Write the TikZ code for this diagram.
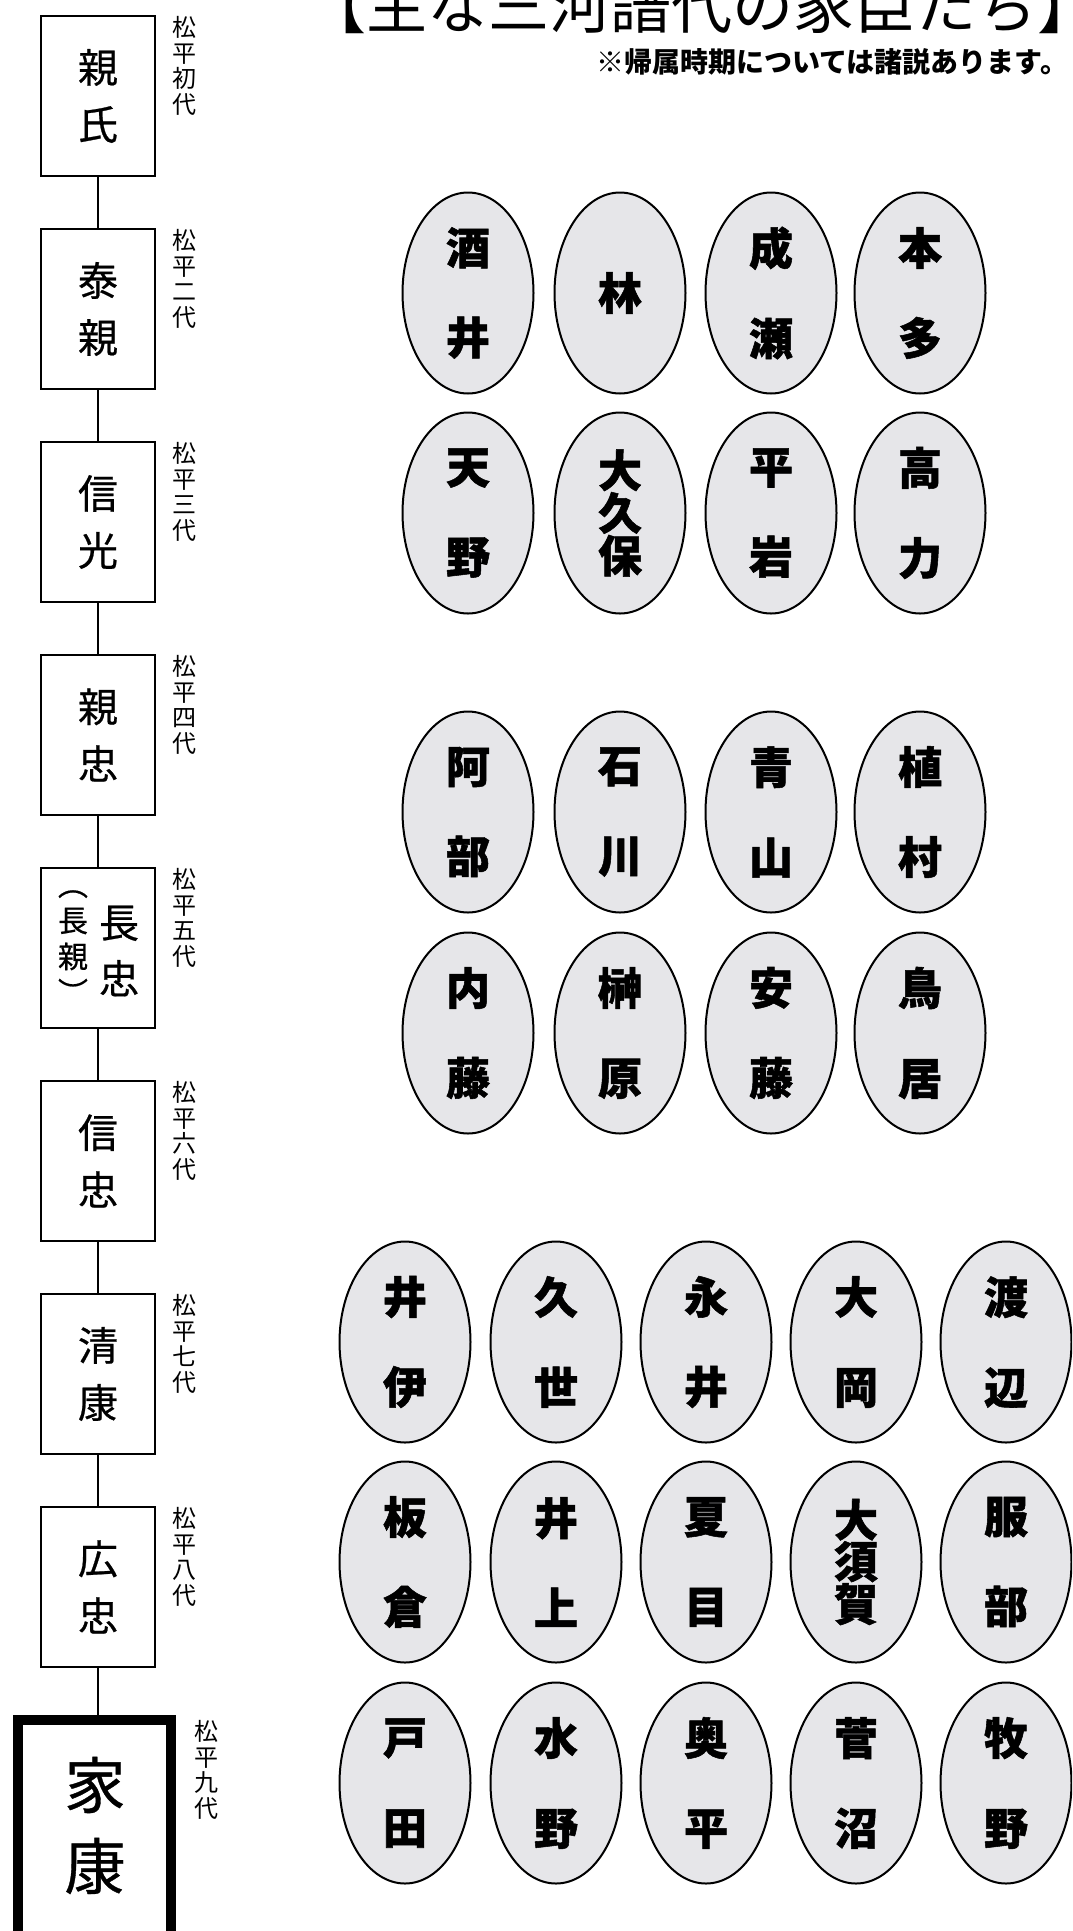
\documentclass[tikz,border=0pt]{standalone}
\usepackage{fontspec}
\usetikzlibrary{shapes.geometric}
\newfontfamily\jp{Noto Sans CJK JP}
\newfontfamily\jpm{Noto Sans CJK JP}[FakeBold=0.6]
\newfontfamily\jpb{Noto Sans CJK JP}[BoldFeatures={FakeBold=1.2}]
\definecolor{elfill}{RGB}{230,230,233}
\tikzset{
  gen/.style={draw, line width=2.5pt, minimum width=114pt, minimum height=160pt, inner sep=0pt, align=center, font=\jpm\fontsize{40}{57}\selectfont},
  genlbl/.style={inner sep=0pt, align=center, font=\jp\fontsize{24}{25.5}\selectfont},
  txt/.style={inner sep=0pt, align=center},
  conn/.style={line width=2.5pt},
  kin/.style={ellipse, draw, line width=2pt, fill=elfill, minimum width=131pt, minimum height=201pt, inner sep=0pt, align=center, font=\jpb\bfseries\fontsize{44}{90}\selectfont},
  kinthree/.style={kin, font=\jpb\bfseries\fontsize{44}{41.5}\selectfont},
}
\begin{document}
\begin{tikzpicture}[x=1pt,y=-1pt]
\useasboundingbox (0,0) rectangle (1072,1931);
\clip (0,0) rectangle (1072,1931);
\fill[white] (0,0) rectangle (1072,1931);

% title and note
\node[anchor=base west, inner sep=0pt, font=\jp\fontsize{61}{61}\selectfont] (title) at (305,28) {【主な三河譜代の家臣たち】};
\node[anchor=west, inner sep=0pt, font=\jp\bfseries\fontsize{28}{30}\selectfont] (note) at (596,62) {※帰属時期については諸説あります。};

% lineage boxes
\node[gen] (b1) at (98,96) {親\\氏};
\node[gen] (b2) at (98,309) {泰\\親};
\node[gen] (b3) at (98,522) {信\\光};
\node[gen] (b4) at (98,735) {親\\忠};
\node[gen] (b5) at (98,948) {};
\node[txt, font=\jpm\fontsize{40}{56}\selectfont] (t5a) at (119,951) {長\\忠};
\node[txt, font=\jpm\fontsize{30}{36}\selectfont] (t5b) at (73,947) {︵\\長\\親\\︶};
\node[gen] (b6) at (98,1161) {信\\忠};
\node[gen] (b7) at (98,1374) {清\\康};
\node[gen] (b8) at (98,1587) {広\\忠};
\node[draw, line width=10pt, minimum width=153pt, minimum height=230pt, inner sep=0pt] (b9) at (94.5,1835) {};
\node[txt, font=\jpm\fontsize{61}{81}\selectfont] (t9) at (95,1825.5) {家\\康};

\draw[conn] (b1) -- (b2);
\draw[conn] (b2) -- (b3);
\draw[conn] (b3) -- (b4);
\draw[conn] (b4) -- (b5);
\draw[conn] (b5) -- (b6);
\draw[conn] (b6) -- (b7);
\draw[conn] (b7) -- (b8);
\draw[conn] (b8.south) -- (b8.south |- b9.north);

% generation labels
\node[genlbl] (g1) at (184,66) {松\\平\\初\\代};
\node[genlbl] (g2) at (184,279) {松\\平\\二\\代};
\node[genlbl] (g3) at (184,492) {松\\平\\三\\代};
\node[genlbl] (g4) at (184,705) {松\\平\\四\\代};
\node[genlbl] (g5) at (184,918) {松\\平\\五\\代};
\node[genlbl] (g6) at (184,1131) {松\\平\\六\\代};
\node[genlbl] (g7) at (184,1344) {松\\平\\七\\代};
\node[genlbl] (g8) at (184,1557) {松\\平\\八\\代};
\node[genlbl] (g9) at (206,1770) {松\\平\\九\\代};

% section 1
\node[kin] (k11) at (468,293) {酒\\井};
\node[kin] (k12) at (620,293) {林};
\node[kin] (k13) at (771,293) {成\\瀬};
\node[kin] (k14) at (920,293) {本\\多};
\node[kin] (k21) at (468,513) {天\\野};
\node[kinthree] (k22) at (620,513) {大\\久\\保};
\node[kin] (k23) at (771,513) {平\\岩};
\node[kin] (k24) at (920,513) {高\\力};

% section 2
\node[kin] (k31) at (468,812) {阿\\部};
\node[kin] (k32) at (620,812) {石\\川};
\node[kin] (k33) at (771,812) {青\\山};
\node[kin] (k34) at (920,812) {植\\村};
\node[kin] (k41) at (468,1033) {内\\藤};
\node[kin] (k42) at (620,1033) {榊\\原};
\node[kin] (k43) at (771,1033) {安\\藤};
\node[kin] (k44) at (920,1033) {鳥\\居};

% section 3
\node[kin] (k51) at (405,1342) {井\\伊};
\node[kin] (k52) at (556,1342) {久\\世};
\node[kin] (k53) at (706,1342) {永\\井};
\node[kin] (k54) at (856,1342) {大\\岡};
\node[kin] (k55) at (1006,1342) {渡\\辺};
\node[kin] (k61) at (405,1562) {板\\倉};
\node[kin] (k62) at (556,1562) {井\\上};
\node[kin] (k63) at (706,1562) {夏\\目};
\node[kinthree] (k64) at (856,1562) {大\\須\\賀};
\node[kin] (k65) at (1006,1562) {服\\部};
\node[kin] (k71) at (405,1783) {戸\\田};
\node[kin] (k72) at (556,1783) {水\\野};
\node[kin] (k73) at (706,1783) {奥\\平};
\node[kin] (k74) at (856,1783) {菅\\沼};
\node[kin] (k75) at (1006,1783) {牧\\野};
\end{tikzpicture}
\end{document}
